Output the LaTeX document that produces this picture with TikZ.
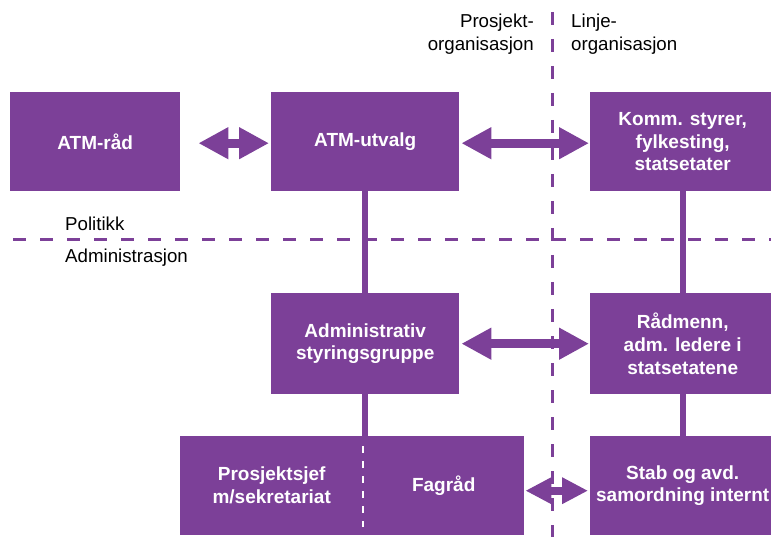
\documentclass[tikz,border=0pt]{standalone}
\usepackage{fontspec}
\setmainfont{Liberation Sans}
\usetikzlibrary{arrows.meta}
\definecolor{purp}{RGB}{124,64,152}
\begin{document}
\begin{tikzpicture}[x=1pt,y=-1pt,
  box/.style={fill=purp, draw=none, text=white, font=\bfseries\fontsize{19}{22.8}\selectfont, align=center, inner sep=0pt, anchor=north west},
  lbl/.style={font=\fontsize{18.7}{23}\selectfont, inner sep=0pt, text=black},
  dline/.style={purp, line width=3pt, dash pattern=on 13pt off 14pt},
  conn/.style={purp, line width=6pt},
  dbl/.style={purp, line width=9pt, {Triangle[length=30pt,width=30pt]}-{Triangle[length=30pt,width=30pt]}},
  dblsmall/.style={purp, line width=8pt, {Triangle[length=26pt,width=25pt]}-{Triangle[length=26pt,width=25pt]}}]
\useasboundingbox (0,0) rectangle (771,537);

% boxes
\node[box, minimum width=170pt, minimum height=99pt] (rad) at (10,92) {ATM-råd};
\node[box, minimum width=188pt, minimum height=99pt] (utv) at (271,92) {ATM-utvalg};
\node[box, minimum width=185pt, minimum height=99pt] (komm) at (590,92) {Komm. styrer,\\fylkesting,\\statsetater};
\node[box, minimum width=188pt, minimum height=101pt] (adm) at (271,293) {Administrativ\\styringsgruppe};
\node[box, minimum width=185pt, minimum height=101pt] (rdm) at (590,293) {Rådmenn,\\adm. ledere i\\statsetatene};
\node[box, minimum width=183pt, minimum height=99pt] (psj) at (180,436) {Prosjektsjef\\m/sekretariat};
\node[box, minimum width=161pt, minimum height=99pt] (fag) at (363,436) {Fagråd};
\node[box, minimum width=185pt, minimum height=99pt] (stab) at (590,436) {Stab og avd.\\samordning internt};

% white divider inside bottom box
\draw[white, line width=2pt, dash pattern=on 7pt off 8pt] ([yshift=-10pt]psj.north east) -- ([yshift=8pt]psj.south east);

% vertical connectors
\draw[conn] (utv.south) -- (adm.north);
\draw[conn] (adm.south) -- (adm.south |- psj.north);
\draw[conn] (komm.south) -- (rdm.north);
\draw[conn] (rdm.south) -- (stab.north);

% double arrows
\draw[dbl, shorten <=18pt, shorten >=2pt] ([yshift=-1.5pt]rad.east) -- ([yshift=-1.5pt]utv.west);
\draw[dbl, shorten <=2pt, shorten >=1pt] ([yshift=-1.5pt]utv.east) -- ([yshift=-1.5pt]komm.west);
\draw[dbl, shorten <=2pt, shorten >=1pt] (adm.east) -- (rdm.west);
\draw[dblsmall, shorten <=1pt, shorten >=2pt] ([yshift=-5pt]fag.east) -- ([yshift=-5pt]stab.west);

% dashed separators
\coordinate (hl) at (13,240);
\coordinate (hr) at (771,240);
\coordinate (vt) at (552,12);
\coordinate (vb) at (552,537);
\draw[dline] (hl) -- (hr);
\draw[dline] (vt) -- (vb);

% labels
\node[lbl, anchor=east, align=right] (po) at (534,34) {Prosjekt-\\organisasjon};
\node[lbl, anchor=west, align=left] (lo) at (571,34) {Linje-\\organisasjon};
\node[lbl, anchor=west] (pol) at (65,224) {Politikk};
\node[lbl, anchor=west] (admtxt) at (65,258) {Administrasjon};
\end{tikzpicture}
\end{document}
